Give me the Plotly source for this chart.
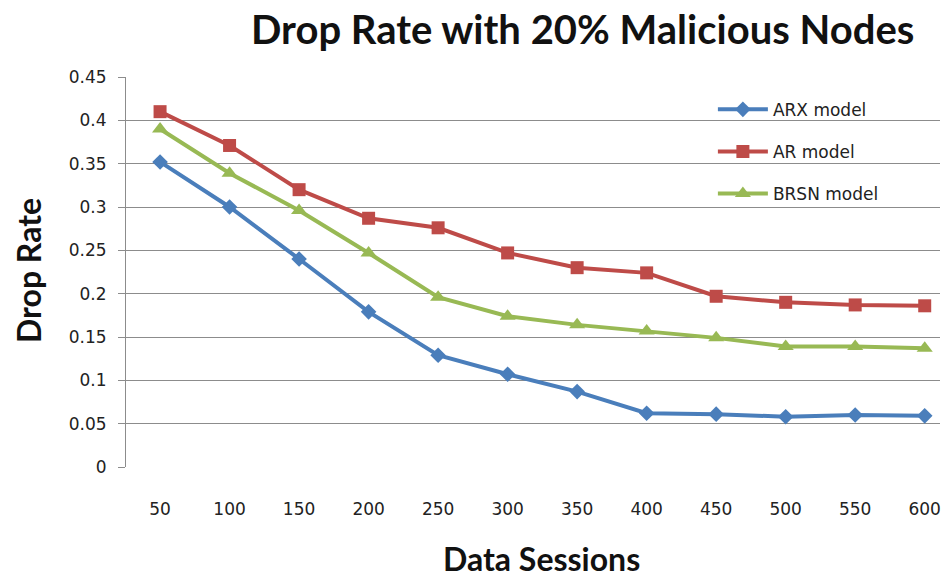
import plotly.graph_objects as go

sessions = [50, 100, 150, 200, 250, 300, 350, 400, 450, 500, 550, 600]
arx = [0.352, 0.300, 0.240, 0.179, 0.129, 0.107, 0.087, 0.062, 0.061, 0.058, 0.060, 0.059]
ar = [0.410, 0.371, 0.320, 0.287, 0.276, 0.247, 0.230, 0.224, 0.197, 0.190, 0.187, 0.186]
brsn = [0.390, 0.339, 0.296, 0.247, 0.196, 0.174, 0.164, 0.157, 0.149, 0.139, 0.139, 0.137]
y_ticks = [0, 0.05, 0.1, 0.15, 0.2, 0.25, 0.3, 0.35, 0.4, 0.45]
y_tick_labels = ["0", "0.05", "0.1", "0.15", "0.2", "0.25", "0.3", "0.35", "0.4", "0.45"]

TFONT = "Lato"
LFONT = "DejaVu Sans"

fig = go.Figure()
series = [
    ("ARX model", arx, "#4A7EBB", "diamond", 12),
    ("AR model", ar, "#BE4B48", "square", 13),
    ("BRSN model", brsn, "#98B954", "triangle-up", 14),
]
for i, (name, vals, col, sym, sz) in enumerate(series):
    fig.add_trace(go.Scatter(
        x=sessions, y=vals, name=name, mode="lines+markers",
        line=dict(color=col, width=4),
        marker=dict(symbol=sym, size=sz, color=col),
        legendgroup=f"g{i}",
    ))

fig.update_layout(
    width=948, height=577,
    margin=dict(l=126, r=8, t=77, b=110),
    paper_bgcolor="white", plot_bgcolor="white",
    font=dict(family=LFONT, size=17, color="#222222"),
    showlegend=True,
    legend=dict(
        x=0.721, y=0.962, xanchor="left", yanchor="top",
        font=dict(family=LFONT, size=17, color="#222222"),
        bgcolor="rgba(0,0,0,0)", traceorder="grouped", tracegroupgap=17,
        itemwidth=50,
    ),
    xaxis=dict(
        range=[25.5, 611], tickvals=sessions, ticktext=[str(s) for s in sessions],
        showgrid=False, zeroline=False, showline=False, ticks="",
        ticklabelstandoff=30, tickfont=dict(family=LFONT, size=17, color="#222222"),
    ),
    yaxis=dict(
        range=[0, 0.45], tickvals=y_ticks, ticktext=y_tick_labels,
        showgrid=True, gridcolor="#8C8C8C", gridwidth=1, zeroline=False,
        showline=True, linecolor="#8C8C8C", linewidth=1,
        ticks="outside", ticklen=7, tickcolor="#8C8C8C",
        ticklabelstandoff=8, tickfont=dict(family=LFONT, size=17, color="#222222"),
    ),
    annotations=[
        dict(text="<b>Drop Rate with 20% Malicious Nodes</b>", xref="paper", yref="paper",
             x=(582-126)/814, y=1, yshift=48, xanchor="center", yanchor="middle",
             showarrow=False, font=dict(family=TFONT, size=40, color="#111111")),
        dict(text="<b>Data Sessions</b>", xref="paper", yref="paper",
             x=(541-126)/814, y=0, yshift=-91, xanchor="center", yanchor="middle",
             showarrow=False, font=dict(family=TFONT, size=32, color="#111111")),
        dict(text="<b>Drop Rate</b>", xref="paper", yref="paper",
             x=0, xshift=-98, y=(467-271)/390, xanchor="center", yanchor="middle",
             textangle=-90, showarrow=False, font=dict(family=TFONT, size=32, color="#111111")),
    ],
)

fig.write_html("out.html")
